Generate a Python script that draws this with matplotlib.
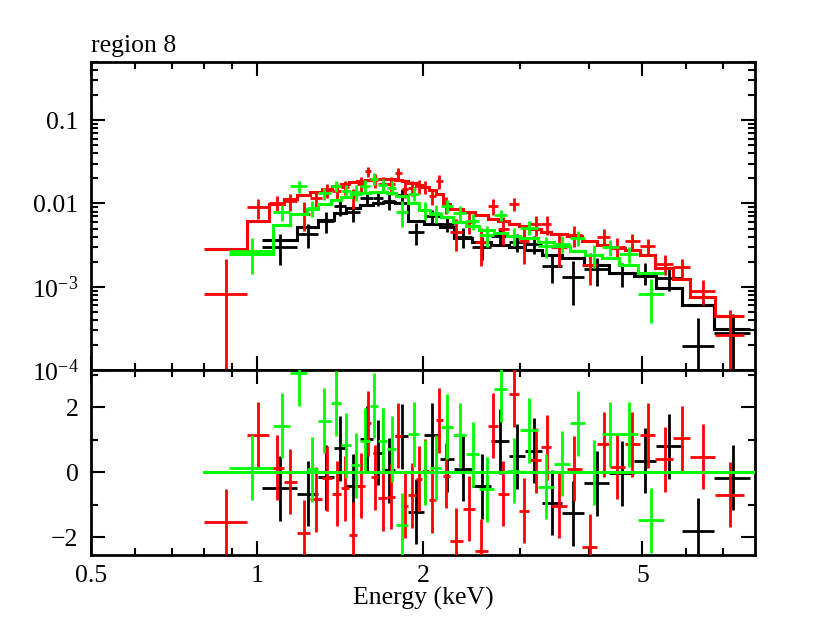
import numpy as np
import matplotlib
matplotlib.use('Agg')
import matplotlib.pyplot as plt
from matplotlib.ticker import FixedLocator, FuncFormatter, NullFormatter, LogLocator

plt.rcParams['font.family'] = ['Liberation Serif', 'DejaVu Serif']
plt.rcParams['mathtext.fontset'] = 'custom'
plt.rcParams['mathtext.rm'] = 'Liberation Serif'
plt.rcParams['mathtext.it'] = 'Liberation Serif:italic'

# ---------------- data (keV, counts/s/keV) ----------------
black_edges = [1.02, 1.18, 1.29, 1.38, 1.45, 1.54, 1.62, 1.69, 1.78, 1.88, 2.01, 2.15, 2.28,
               2.45, 2.66, 2.86, 3.06, 3.29, 3.57, 3.92, 4.35, 4.82, 5.30, 5.89, 6.73, 7.85]
black_data = [3.04e-3, 4.30e-3, 6.08e-3, 9.22e-3, 8.0e-3, 0.01175, 0.0115, 0.0106, 0.01259,
              4.5e-3, 7.1e-3, 5.7e-3, 3.97e-3, 3.04e-3, 4.03e-3, 3.42e-3, 3.28e-3, 1.78e-3,
              1.31e-3, 1.62e-3, 1.46e-3, 1.48e-3, 1.27e-3, 1.94e-4, 2.77e-4]
black_err = [1.24e-3, 1.41e-3, 1.71e-3, 2.08e-3, 1.94e-3, 2.11e-3, 2.23e-3, 2.29e-3, 2.23e-3,
             1.36e-3, 1.25e-3, 1.15e-3, 1.08e-3, 0.97e-3, 0.89e-3, 0.84e-3, 0.78e-3, 0.68e-3,
             0.71e-3, 0.59e-3, 0.47e-3, 0.43e-3, 0.39e-3, 2.3e-4, 2.0e-4]
black_model = [3.66e-3, 5.23e-3, 6.35e-3, 7.70e-3, 8.84e-3, 9.60e-3, 0.01014, 0.01043, 0.01014,
               6.17e-3, 5.68e-3, 5.23e-3, 3.86e-3, 3.46e-3, 3.18e-3, 3.01e-3, 2.77e-3, 2.42e-3,
               2.21e-3, 1.83e-3, 1.48e-3, 1.33e-3, 9.64e-4, 6.08e-4, 3.11e-4]
black_resid = [-0.50, -0.66, -0.16, 0.73, -0.43, 1.02, 0.59, 0.06, 1.10, -1.22, 1.14, 0.40, 0.10,
               -0.43, 0.95, 0.49, 0.65, -0.94, -1.27, -0.35, -0.04, 0.35, 0.80, -1.80, -0.17]

red_edges = [0.80, 0.96, 1.05, 1.12, 1.18, 1.25, 1.31, 1.37, 1.42, 1.47, 1.52, 1.57, 1.61, 1.66,
             1.72, 1.78, 1.83, 1.88, 1.94, 1.99, 2.05, 2.11, 2.17, 2.24, 2.36, 2.48, 2.62, 2.73,
             2.86, 2.98, 3.12, 3.28, 3.42, 3.65, 3.88, 4.14, 4.36, 4.64, 4.94, 5.28, 5.69, 6.11,
             6.78, 7.63]
red_data = [8.2e-4, 8.98e-3, 0.0102, 0.0106, 0.0075, 0.0116, 0.0144, 0.0143, 0.0156, 0.0118,
            0.0172, 0.0243, 0.0191, 0.0170, 0.0170, 0.0230, 0.0151, 0.0153, 0.0161, 0.0159,
            0.0123, 0.0185, 0.0097, 0.0046, 0.0060, 0.0034, 0.0093, 0.0050, 0.0098, 0.0035,
            0.0056, 0.0056, 0.0030, 0.0042, 0.0018, 0.0040, 0.0030, 0.0035, 0.0031, 0.0019,
            0.00171, 0.0009, 0.00026]
red_err = [1.33e-3, 2.42e-3, 2.18e-3, 2.49e-3, 2.79e-3, 2.47e-3, 2.68e-3, 2.92e-3, 3.08e-3, 3.26e-3,
           3.35e-3, 3.44e-3, 3.55e-3, 3.58e-3, 3.55e-3, 3.44e-3, 3.35e-3, 3.17e-3, 3.0e-3, 2.84e-3,
           2.61e-3, 3.5e-3, 2.18e-3, 1.89e-3, 1.74e-3, 1.61e-3, 1.95e-3, 1.86e-3, 1.71e-3, 1.62e-3,
           1.5e-3, 1.38e-3, 1.29e-3, 1.23e-3, 0.74e-3, 0.96e-3, 0.87e-3, 0.84e-3, 0.6e-3, 0.51e-3,
           0.44e-3, 0.30e-3, 0.26e-3]
red_model = [2.85e-3, 6.2e-3, 9.9e-3, 0.0113, 0.0127, 0.0137, 0.0149, 0.0162, 0.0171, 0.0181,
             0.0186, 0.0191, 0.0197, 0.0199, 0.0197, 0.0191, 0.0186, 0.0176, 0.0167, 0.0158,
             0.0145, 0.0130, 0.0099, 0.0086, 0.0079, 0.0073, 0.0065, 0.0062, 0.0057, 0.0054,
             0.0050, 0.0046, 0.0043, 0.0041, 0.0035, 0.0032, 0.0029, 0.0028, 0.0024, 0.0017,
             0.00125, 0.00076, 0.00044]
red_resid = [-1.53, 1.15, 0.14, -0.30, -1.87, -0.84, -0.19, -0.66, -0.50, -1.92,
             -0.42, 1.50, -0.16, -0.81, -0.76, 1.12, -1.03, -0.71, -0.20, 0.03,
             -0.86, 1.60, -0.11, -2.11, -1.12, -2.43, 1.42, -0.66, 2.40, -1.19,
             0.37, 0.76, -1.03, 0.10, -2.30, 0.86, 0.16, 0.85, 1.14, 0.39,
             1.04, 0.47, -0.69]

green_edges = [0.89, 1.07, 1.15, 1.23, 1.29, 1.36, 1.42, 1.48, 1.54, 1.60, 1.66, 1.72, 1.79,
               1.88, 1.97, 2.06, 2.16, 2.27, 2.39, 2.53, 2.69, 2.84, 3.00, 3.23, 3.46, 3.69,
               3.94, 4.22, 4.53, 4.91, 5.46]
green_data = [2.65e-3, 7.9e-3, 0.0160, 8.76e-3, 0.0133, 0.0161, 0.0142, 0.0136, 0.0162, 0.0199,
              0.0166, 0.0155, 0.0079, 0.0131, 8.36e-3, 7.75e-3, 9.3e-3, 7.7e-3, 6.12e-3, 4.18e-3,
              7.26e-3, 4.12e-3, 5.11e-3, 3.07e-3, 3.29e-3, 3.85e-3, 2.42e-3, 2.98e-3, 2.47e-3, 8.1e-4]
green_err = [1.24e-3, 1.66e-3, 2.8e-3, 1.89e-3, 2.17e-3, 2.42e-3, 2.63e-3, 2.86e-3, 2.94e-3, 3.02e-3,
             3.02e-3, 2.94e-3, 2.71e-3, 2.54e-3, 2.09e-3, 1.87e-3, 1.72e-3, 1.5e-3, 1.35e-3, 1.2e-3,
             1.11e-3, 1.02e-3, 0.97e-3, 0.87e-3, 0.78e-3, 0.80e-3, 0.73e-3, 0.66e-3, 0.55e-3, 0.44e-3]
green_model = [2.48e-3, 5.53e-3, 7.49e-3, 8.59e-3, 9.86e-3, 0.01101, 0.01197, 0.01300, 0.01337,
               0.01374, 0.01374, 0.01337, 0.01230, 0.01014, 8.36e-3, 7.49e-3, 6.89e-3, 6.00e-3,
               5.38e-3, 4.82e-3, 4.43e-3, 4.08e-3, 3.86e-3, 3.46e-3, 3.10e-3, 2.65e-3, 2.42e-3,
               2.21e-3, 1.83e-3, 1.46e-3]
green_resid = [0.14, 1.43, 3.04, 0.09, 1.58, 2.11, 0.83, 0.21, 0.97, 2.04, 0.96, 0.71, -1.64,
               1.16, 0.0, 0.14, 1.40, 1.13, 0.55, -0.53, 2.55, 0.04, 1.29, -0.45, 0.25, 1.50,
               0.0, 1.17, 1.16, -1.48]

zero_line_range = [0.80, 8.0]

series = [
    ('black', black_edges, black_data, black_err, black_model, black_resid),
    ('#ff0000', red_edges, red_data, red_err, red_model, red_resid),
    ('#00ff00', green_edges, green_data, green_err, green_model, green_resid),
]

# ---------------- figure ----------------
W, H = 830, 617
fig = plt.figure(figsize=(W / 100, H / 100), dpi=100)
L, R = 91, 755
ax1 = fig.add_axes([L / W, 1 - 370 / H, (R - L) / W, (370 - 62) / H])
ax2 = fig.add_axes([L / W, 1 - 555 / H, (R - L) / W, (555 - 370) / H], sharex=ax1)

FS = 18.5
LW = 2.0

for i, (col, edges, data, err, model, resid) in enumerate(series):
    e = np.asarray(edges)
    d = np.asarray(data)
    er = np.asarray(err)
    xc = 0.5 * (e[:-1] + e[1:])
    xw = 0.5 * (e[1:] - e[:-1])
    lower = np.minimum(er, d * 0.9999)
    z = 3 + i
    ax1.errorbar(xc, d, xerr=xw, yerr=[lower, er], fmt='none', ecolor=col,
                 elinewidth=LW, capsize=0, zorder=z)
    ax1.stairs(model, e, baseline=None, color=col, lw=LW + 0.2, zorder=z)
    ax2.errorbar(xc, resid, xerr=xw, yerr=1.0, fmt='none', ecolor=col,
                 elinewidth=LW, capsize=0, zorder=z)

ax2.plot(zero_line_range, [0, 0], color='#00ff00', lw=LW + 0.2, zorder=10)

ax1.set_xscale('log')
ax1.set_yscale('log')
ax1.set_xlim(0.5, 8.0)
ax1.set_ylim(1e-4, 0.5)
ax2.set_ylim(-2.55, 3.14)

ylab = {0.1: '0.1', 0.01: '0.01', 1e-3: r'$10^{-3}$', 1e-4: r'$10^{-4}$'}
ax1.yaxis.set_major_locator(FixedLocator([1e-4, 1e-3, 1e-2, 1e-1]))
ax1.yaxis.set_major_formatter(FuncFormatter(lambda v, p: ylab.get(round(v, 6), '')))
ax1.yaxis.set_minor_locator(LogLocator(base=10, subs=np.arange(2, 10), numticks=20))
ax1.yaxis.set_minor_formatter(NullFormatter())

ax2.xaxis.set_major_locator(FixedLocator([0.5, 1, 2, 5]))
ax2.xaxis.set_minor_locator(FixedLocator([0.6, 0.7, 0.8, 0.9, 3, 4, 6, 7]))
ax2.xaxis.set_major_formatter(FuncFormatter(lambda v, p: {0.5: '0.5', 1: '1', 2: '2', 5: '5'}.get(v, '')))
ax2.xaxis.set_minor_formatter(NullFormatter())
ax2.yaxis.set_major_locator(FixedLocator([-2, 0, 2]))
ax2.yaxis.set_minor_locator(FixedLocator([-1, 1, 3]))
ax2.yaxis.set_major_formatter(FuncFormatter(lambda v, p: {-2: '\u22122', 0: '0', 2: '2'}.get(int(round(v)), '')))
plt.setp(ax1.get_xticklabels(), visible=False)

for ax in (ax1, ax2):
    for s in ax.spines.values():
        s.set_linewidth(2.0)
    ax.tick_params(which='both', direction='in', top=True, right=True, width=1.5,
                   labelsize=FS)
    ax.tick_params(which='major', length=10)
    ax.tick_params(which='minor', length=5)
    ax.tick_params(axis='y', pad=9)
    ax.tick_params(axis='x', pad=7)

fig.text(L / W, 1 - 52 / H, 'region 8', fontsize=FS, ha='left', va='baseline')
fig.text((L + R) / 2 / W, 1 - 605 / H, 'Energy (keV)', fontsize=FS, ha='center', va='baseline')

fig.savefig('out.png', dpi=100)
